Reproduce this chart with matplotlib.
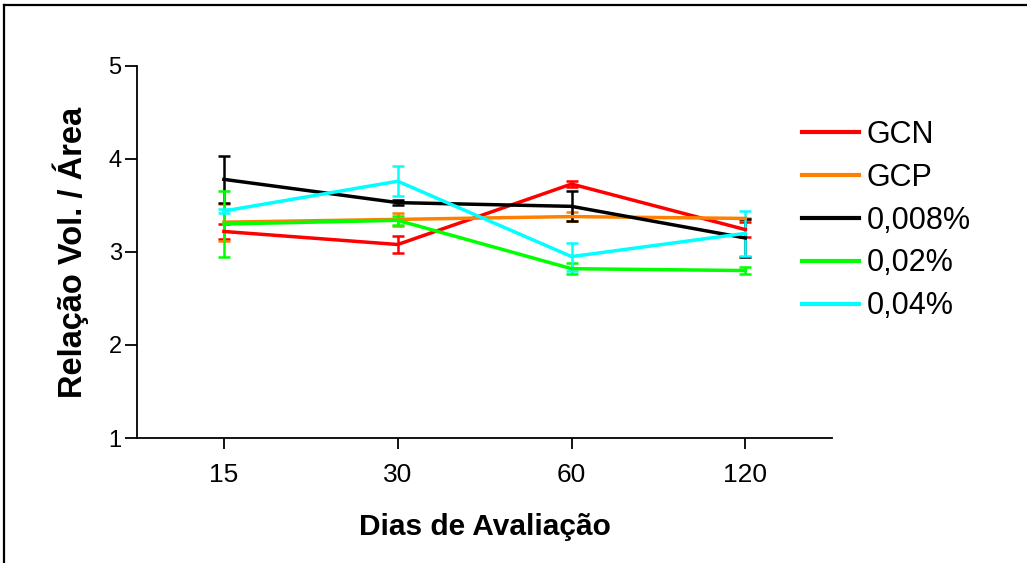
import matplotlib.pyplot as plt
from matplotlib.lines import Line2D

plt.rcParams["font.family"] = ["Liberation Sans", "DejaVu Sans"]

dias = ["15", "30", "60", "120"]
series = ["GCN", "GCP", "0,008%", "0,02%", "0,04%"]
cores = ["#ff0000", "#ff8000", "#000000", "#00ff00", "#00ffff"]

gcn = [3.22, 3.08, 3.73, 3.24]
gcn_err = [0.08, 0.09, 0.03, 0.08]
gcp = [3.32, 3.35, 3.38, 3.36]
gcp_err = [0.20, 0.07, 0.05, 0.01]
c008 = [3.78, 3.53, 3.49, 3.15]
c008_err = [0.25, 0.03, 0.16, 0.20]
c02 = [3.30, 3.34, 2.82, 2.80]
c02_err = [0.35, 0.05, 0.06, 0.04]
c04 = [3.44, 3.76, 2.95, 3.20]
c04_err = [0.02, 0.16, 0.15, 0.24]

valores = [gcn, gcp, c008, c02, c04]
erros = [gcn_err, gcp_err, c008_err, c02_err, c04_err]

fig = plt.figure(figsize=(10.27, 5.63), dpi=100)
ax = fig.add_axes([0.1334, 0.222, 0.677, 0.661])

x = range(len(dias))
for nome, cor, v, e in zip(series, cores, valores, erros):
    ax.errorbar(x, v, yerr=e, color=cor, lw=2.5, elinewidth=1.8,
                capsize=4, capthick=1.8, label=nome)

ax.set_xlim(-0.5, 3.5)
ax.set_ylim(1, 5)
ax.set_xticks(list(x))
ax.set_xticklabels(dias, fontsize=19)
ax.set_yticks([1, 2, 3, 4, 5])
ax.tick_params(axis="y", labelsize=17, length=9, width=1.3, pad=2)
ax.tick_params(axis="x", length=8, width=1.3, pad=10)
for s in ["top", "right"]:
    ax.spines[s].set_visible(False)
for s in ["left", "bottom"]:
    ax.spines[s].set_linewidth(1.3)

ax.set_xlabel("Dias de Avaliação", fontsize=21.5, fontweight="bold", labelpad=19)
ax.set_ylabel("Relação Vol. / Área", fontsize=23.5, fontweight="bold", labelpad=14)

hand = [Line2D([0], [0], color=c, lw=3) for c in cores]
fig.legend(hand, series, loc="upper left", bbox_to_anchor=(0.781, 0.787),
           frameon=False, fontsize=22, handlelength=1.85, handletextpad=0.25,
           labelspacing=0.42, borderpad=0, borderaxespad=0)

# moldura (topo e esquerda)
fig.add_artist(Line2D([0.004, 0.999], [0.991, 0.991], color="black", lw=1.6,
                      transform=fig.transFigure))
fig.add_artist(Line2D([0.004, 0.004], [0.0, 0.991], color="black", lw=1.6,
                      transform=fig.transFigure))

fig.savefig("out.png", dpi=100)
